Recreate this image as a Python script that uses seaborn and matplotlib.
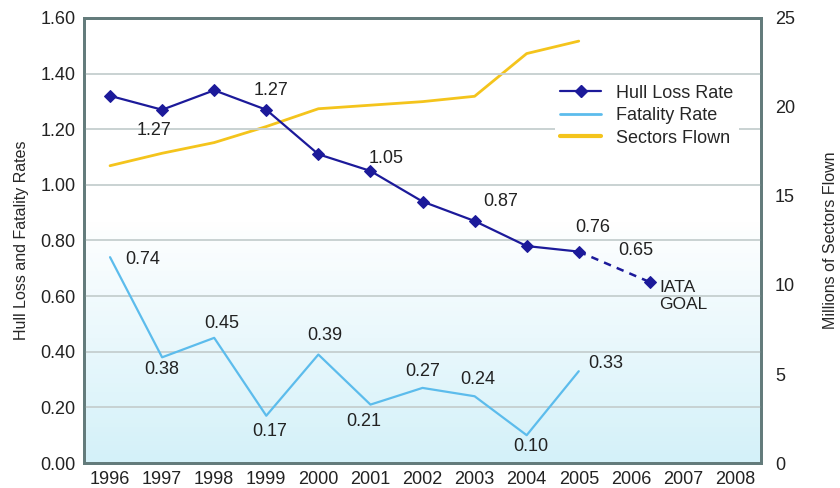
import matplotlib
import matplotlib.pyplot as plt
import numpy as np
import pandas as pd
import seaborn as sns

matplotlib.use("Agg")

years = [1996, 1997, 1998, 1999, 2000, 2001, 2002, 2003, 2004, 2005]
hull_loss = [1.32, 1.27, 1.34, 1.27, 1.11, 1.05, 0.94, 0.87, 0.78, 0.76]
fatality = [0.74, 0.38, 0.45, 0.17, 0.39, 0.21, 0.27, 0.24, 0.10, 0.33]
sectors = [16.7, 17.4, 18.0, 18.9, 19.9, 20.1, 20.3, 20.6, 23.0, 23.7]
goal_years = [2005, 2006.37]
goal_values = [0.76, 0.65]
tick_years = list(range(1996, 2009))

hull_labels = [("1.27", 1996.85, 1.195), ("1.27", 1999.1, 1.34), ("1.05", 2001.3, 1.095),
               ("0.87", 2003.5, 0.94), ("0.76", 2005.27, 0.845), ("0.65", 2006.1, 0.765)]
fatal_labels = [("0.74", 1996.62, 0.73), ("0.38", 1997.0, 0.335), ("0.45", 1998.15, 0.50),
                ("0.17", 1999.06, 0.115), ("0.39", 2000.13, 0.457), ("0.21", 2000.88, 0.15),
                ("0.27", 2002.0, 0.33), ("0.24", 2003.06, 0.30), ("0.10", 2004.08, 0.058),
                ("0.33", 2005.52, 0.356)]

HULL = "#1c1a9a"
FATAL = "#5cbcec"
SECT = "#f4c41c"
SPINE = "#637b7b"

sns.set_theme(style="white")
plt.rcParams["font.family"] = ["Liberation Sans", "DejaVu Sans"]

df = pd.DataFrame({"year": years, "hull": hull_loss, "fatal": fatality, "sectors": sectors})
goal = pd.DataFrame({"year": goal_years, "hull": goal_values})

fig = plt.figure(figsize=(8.4, 4.88), dpi=100)
ax = fig.add_axes([0.1, 0.0512, 0.806, 0.912])
ax2 = ax.twinx()
ax.set_zorder(ax2.get_zorder() + 1)
ax.patch.set_visible(False)

# background gradient: white at top, pale cyan toward the bottom
grad = np.concatenate([np.zeros(45), np.linspace(0, 1, 55)])[:, None]
cmap = matplotlib.colors.LinearSegmentedColormap.from_list("bg", ["#ffffff", "#d4f1f9"])
ax2.imshow(grad, extent=[0, 1, 0, 1], origin="upper", transform=ax2.transAxes,
           cmap=cmap, aspect="auto", zorder=0)

for v in np.arange(0.2, 1.6, 0.2):
    ax.axhline(v, color="#c5cfcf", lw=1.3, zorder=0)

sns.lineplot(data=df, x="year", y="sectors", ax=ax2, color=SECT, lw=2, zorder=2)
sns.lineplot(data=df, x="year", y="fatal", ax=ax, color=FATAL, lw=1.6, zorder=3)
sns.lineplot(data=df, x="year", y="hull", ax=ax, color=HULL, lw=1.6, marker="D",
             markersize=6, markeredgecolor=HULL, zorder=4)
sns.lineplot(data=goal, x="year", y="hull", ax=ax, color=HULL, lw=1.8, ls=(0, (3, 2.5)),
             marker="D", markersize=6, markeredgecolor=HULL, markevery=[1], zorder=4)

ax.set_xlim(1995.5, 2008.5)
ax.set_ylim(0, 1.6)
ax2.set_ylim(0, 25)
ax.set_xticks(tick_years)
ax.set_yticks(np.arange(0, 1.61, 0.2))
ax.set_yticklabels([f"{v:.2f}" for v in np.arange(0, 1.61, 0.2)])
ax2.set_yticks([0, 5, 10, 15, 20, 25])
ax.tick_params(labelsize=13, colors="#222222", length=0, pad=6)
ax2.tick_params(labelsize=13, colors="#222222", length=0, pad=10)
ax.set_xlabel("")
ax.set_ylabel("Hull Loss and Fatality Rates", fontsize=11.5, labelpad=8)
ax2.set_ylabel("Millions of Sectors Flown", fontsize=11.5, labelpad=20)

for a in (ax, ax2):
    for s in a.spines.values():
        s.set_color(SPINE)
        s.set_linewidth(2)

for txt, x, y in hull_labels + fatal_labels:
    ax.text(x, y, txt, fontsize=13, ha="center", va="center", color="#222222", zorder=6)
ax.text(2006.55, 0.60, "IATA\nGOAL", fontsize=12.5, ha="left", va="center",
        color="#222222", linespacing=1.2, zorder=6)

handles = [
    matplotlib.lines.Line2D([], [], color=HULL, lw=1.6, marker="D", markersize=6),
    matplotlib.lines.Line2D([], [], color=FATAL, lw=2),
    matplotlib.lines.Line2D([], [], color=SECT, lw=3),
]
ax.legend(handles, ["Hull Loss Rate", "Fatality Rate", "Sectors Flown"],
          loc="upper left", bbox_to_anchor=(0.695, 0.862), fontsize=13,
          frameon=True, facecolor="white", edgecolor="none", framealpha=1,
          handlelength=2.3, handletextpad=0.8, borderpad=0.3, labelspacing=0.3,
          borderaxespad=0)

fig.savefig("out.png", dpi=100)
